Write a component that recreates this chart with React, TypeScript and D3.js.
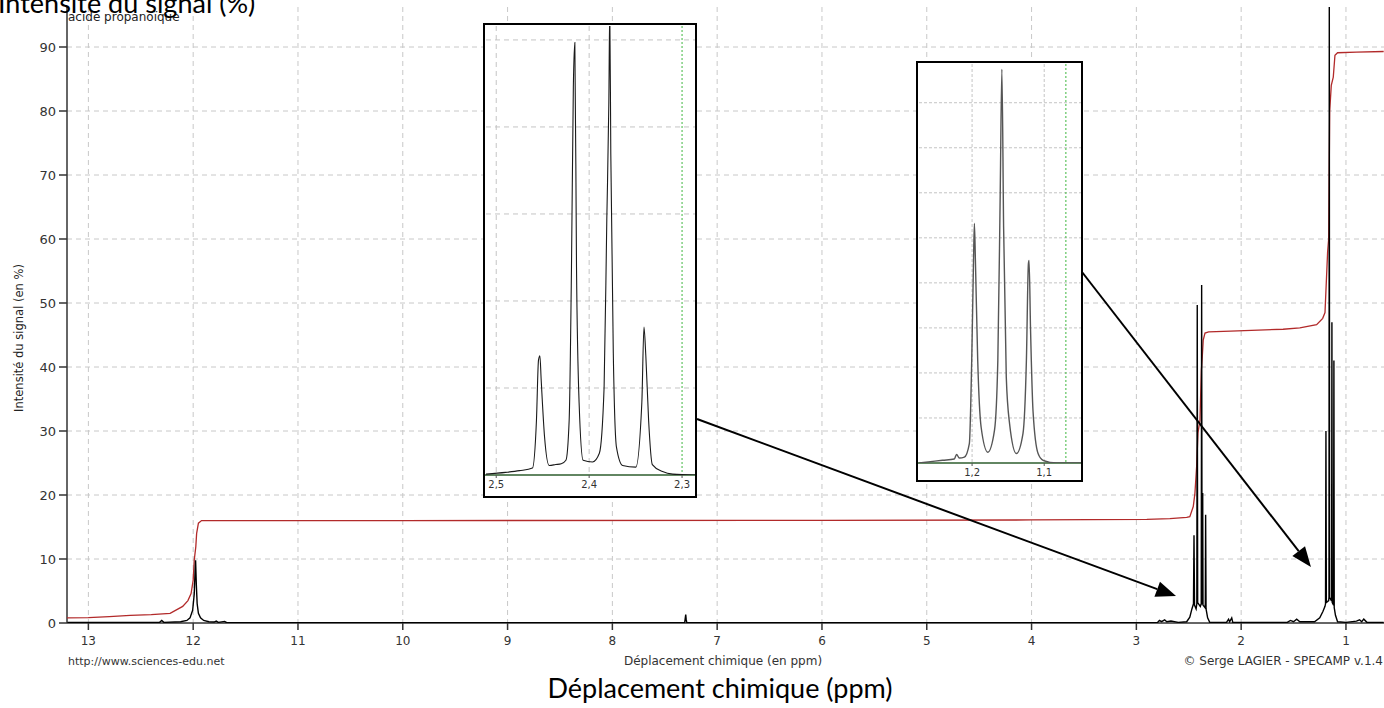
import React, { useEffect, useRef } from 'react'
import * as d3 from 'd3'

// main axis ticks
const xTicks = [13, 12, 11, 10, 9, 8, 7, 6, 5, 4, 3, 2, 1]
const yTicks = [0, 10, 20, 30, 40, 50, 60, 70, 80, 90]

// main spectrum (ppm, intensity %)
const spectrum: [number, number][] = [
  [13.2, 0.1], [12.6, 0.1], [12.32, 0.1], [12.3, 0.4], [12.28, 0.1], [12.12, 0.2],
  [12.06, 0.4], [12.03, 0.8], [12.005, 2], [11.99, 4.5], [11.982, 8], [11.977, 9.8],
  [11.97, 6], [11.962, 3], [11.95, 1.5], [11.93, 0.8], [11.9, 0.4], [11.85, 0.2],
  [11.8, 0.15], [11.78, 0.3], [11.76, 0.1], [11.7, 0.25], [11.68, 0.05], [11.5, 0.05],
  [7.31, 0.05], [7.3, 1.3], [7.296, 0.6], [7.29, 0.05],
  [2.8, 0.05], [2.78, 0.4], [2.76, 0.2], [2.73, 0.5], [2.71, 0.2], [2.67, 0.3], [2.6, 0.1],
  [2.52, 0.2], [2.49, 0.9], [2.47, 2.2], [2.455, 3], [2.45, 13.7], [2.445, 2.8],
  [2.43, 2.2], [2.423, 3], [2.419, 49.7], [2.415, 3.2], [2.39, 2.6], [2.381, 3],
  [2.377, 52.8], [2.373, 3], [2.369, 3], [2.367, 20.3], [2.364, 2.8], [2.345, 2.4],
  [2.342, 3], [2.339, 16.9], [2.335, 2.2], [2.32, 0.8], [2.3, 0.1],
  [2.14, 0.1], [2.12, 0.6], [2.11, 0.2], [2.09, 0.8], [2.08, 0.1],
  [1.56, 0.1], [1.53, 0.4], [1.5, 0.2], [1.47, 0.6], [1.44, 0.2], [1.3, 0.2],
  [1.25, 0.8], [1.22, 1.8], [1.2, 2.6], [1.195, 3], [1.191, 30], [1.187, 3.2],
  [1.165, 3.5], [1.162, 4], [1.159, 99], [1.156, 4], [1.14, 3.5], [1.137, 3.5],
  [1.134, 47], [1.131, 3.2], [1.118, 2.8], [1.115, 41], [1.112, 2.4], [1.1, 1.2],
  [1.08, 0.2], [1.0, 0.1], [0.9, 0.3], [0.87, 0.5], [0.85, 0.2], [0.83, 0.6],
  [0.8, 0.1], [0.64, 0.1]
]

// integration curve (ppm, %)
const integral: [number, number][] = [
  [13.21, 0.8], [13.0, 0.85], [12.8, 1.0], [12.6, 1.2], [12.4, 1.3], [12.22, 1.5],
  [12.1, 2.6], [12.05, 3.5], [12.02, 4.6], [12.0, 6.7], [11.99, 9.8], [11.975, 11.9],
  [11.967, 14], [11.95, 15.6], [11.92, 16.0], [10.0, 16.0], [6.0, 16.05], [4.0, 16.1],
  [2.9, 16.2], [2.68, 16.3], [2.52, 16.5], [2.49, 16.6], [2.457, 18.2], [2.441, 20.3],
  [2.425, 24.4], [2.412, 29.7], [2.393, 31.7], [2.38, 39.5], [2.371, 41.6],
  [2.362, 44.2], [2.345, 45.3], [2.31, 45.5], [2.1, 45.6], [1.6, 45.9], [1.44, 46.1],
  [1.28, 46.6], [1.222, 47.6], [1.2, 48.5], [1.175, 58], [1.165, 60], [1.16, 70],
  [1.155, 80], [1.14, 84], [1.121, 85.3], [1.105, 88.7], [1.08, 89.1], [0.9, 89.2],
  [0.64, 89.3]
]

// zoom on the quartet (ppm, %)
const quartet: [number, number][] = [
  [2.511, 0.1], [2.49, 0.3], [2.475, 0.5], [2.461, 0.8], [2.4567, 6.3], [2.4545, 13.2],
  [2.453, 13.7], [2.4516, 10.9], [2.448, 4.4], [2.443, 1.1], [2.436, 1.2], [2.43, 1.3],
  [2.425, 1.7], [2.4215, 6.3], [2.419, 23.9], [2.417, 44.6], [2.4154, 49.7],
  [2.4136, 23.9], [2.4108, 8.3], [2.4065, 1.7], [2.3964, 1.5], [2.389, 2.5],
  [2.3839, 10.1], [2.381, 29.3], [2.3788, 42.8], [2.3778, 53.5], [2.3767, 37],
  [2.374, 14], [2.3706, 3.2], [2.364, 1.1], [2.3498, 0.9], [2.3433, 8.3], [2.341, 17],
  [2.339, 13.7], [2.336, 6.3], [2.332, 1.2], [2.321, 0.4], [2.31, 0.1], [2.286, 0]
]
const quartetTicks = [2.5, 2.4, 2.3]
const quartetGridY = [10, 20, 30, 40, 50]

// zoom on the triplet (ppm, %)
const triplet: [number, number][] = [
  [1.2736, 0], [1.241, 0.6], [1.2247, 0.9], [1.2215, 1.9], [1.2177, 1.1], [1.2107, 1.3],
  [1.2038, 4.3], [1.2005, 22.8], [1.198, 45], [1.1968, 53.2], [1.1954, 45], [1.1922, 22.8],
  [1.1875, 8], [1.1782, 2.4], [1.1689, 7.3], [1.1643, 22.8], [1.161, 59.9], [1.1587, 87.4],
  [1.1563, 52.4], [1.1526, 19.1], [1.148, 8.7], [1.1386, 2.1], [1.1294, 6.6],
  [1.1247, 22.8], [1.1219, 44.3], [1.121, 45], [1.119, 30], [1.1155, 11.5], [1.1085, 2.1],
  [1.1015, 0.6], [1.0828, 0], [1.049, 0]
]
const tripletTicks = [1.2, 1.1]
const tripletGridY = [10, 20, 30, 40, 50, 60, 70, 80]

const fmtComma = (v: number) => v.toFixed(1).replace('.', ',')

function App() {
  const ref = useRef<SVGSVGElement>(null)

  useEffect(() => {
    const svg = d3.select(ref.current)
    svg.selectAll('*').remove()
    const W = 1384
    const M = { top: 7, left: 67, bottom: 623, right: 1384 }
    const small = "'DejaVu Sans', Tahoma, sans-serif"
    const big = "Lato, 'Open Sans', sans-serif"

    const x = d3.scaleLinear().domain([13.204, 0.637]).range([M.left, M.right])
    const y = d3.scaleLinear().domain([0, 96.25]).range([M.bottom, M.top])

    svg.append('defs').append('clipPath').attr('id', 'mainclip')
      .append('rect').attr('x', M.left).attr('y', M.top)
      .attr('width', M.right - M.left).attr('height', M.bottom - M.top)

    // grid
    const grid = svg.append('g').attr('stroke', '#c8c8c8').attr('stroke-dasharray', '5,4')
    grid.selectAll('.vg').data(xTicks).join('line')
      .attr('x1', d => x(d)).attr('x2', d => x(d)).attr('y1', M.top).attr('y2', M.bottom)
    grid.selectAll('.hg').data(yTicks.filter(d => d > 0)).join('line')
      .attr('x1', M.left).attr('x2', M.right).attr('y1', d => y(d)).attr('y2', d => y(d))

    // axes
    const ax = svg.append('g').attr('stroke', '#333').attr('stroke-width', 1.5)
    ax.append('line').attr('x1', M.left).attr('x2', M.left).attr('y1', M.top).attr('y2', M.bottom)
    ax.append('line').attr('x1', M.left).attr('x2', W).attr('y1', M.bottom).attr('y2', M.bottom)
    ax.selectAll('.yt').data(yTicks).join('line')
      .attr('x1', M.left - 8).attr('x2', M.left).attr('y1', d => y(d)).attr('y2', d => y(d))
    ax.selectAll('.xt').data(xTicks).join('line')
      .attr('x1', d => x(d)).attr('x2', d => x(d)).attr('y1', M.bottom).attr('y2', M.bottom + 7)

    svg.append('g').selectAll('text').data(yTicks).join('text')
      .attr('x', M.left - 11).attr('y', d => y(d) + 4.5)
      .attr('text-anchor', 'end').attr('font-family', small).attr('font-size', 13)
      .attr('fill', '#333').text(d => d)
    svg.append('g').selectAll('text').data(xTicks).join('text')
      .attr('x', d => x(d)).attr('y', M.bottom + 22)
      .attr('text-anchor', 'middle').attr('font-family', small).attr('font-size', 12)
      .attr('fill', '#333').text(d => d)

    // curves
    const plot = svg.append('g').attr('clip-path', 'url(#mainclip)')
    const line = d3.line<[number, number]>().x(d => x(d[0])).y(d => y(d[1]))
    plot.append('path').datum(integral).attr('d', line)
      .attr('fill', 'none').attr('stroke', '#b22a2a').attr('stroke-width', 1.3)
    plot.append('path').datum(spectrum).attr('d', line)
      .attr('fill', 'none').attr('stroke', '#000').attr('stroke-width', 1.4)

    // texts of the spectrum window
    svg.append('text').attr('x', 68).attr('y', 21).attr('font-family', small)
      .attr('font-size', 12).attr('fill', '#222').text('acide propanoïque')
    svg.append('text').attr('transform', 'translate(23,338) rotate(-90)')
      .attr('text-anchor', 'middle').attr('font-family', small).attr('font-size', 11.5)
      .attr('fill', '#222').text('Intensité du signal (en %)')
    svg.append('text').attr('x', 68).attr('y', 665).attr('font-family', small)
      .attr('font-size', 11).attr('fill', '#333').text('http://www.sciences-edu.net')
    svg.append('text').attr('x', 723).attr('y', 665).attr('text-anchor', 'middle')
      .attr('font-family', small).attr('font-size', 12).attr('fill', '#333')
      .text('Déplacement chimique (en ppm)')
    svg.append('text').attr('x', 1383).attr('y', 665).attr('text-anchor', 'end')
      .attr('font-family', small).attr('font-size', 12).attr('fill', '#333')
      .text('© Serge LAGIER - SPECAMP v.1.4')

    // big captions
    svg.append('text').attr('x', -2).attr('y', 13).attr('font-family', big)
      .attr('font-size', 27).attr('fill', '#000').text('Intensité du signal (%)')
    svg.append('text').attr('x', 720).attr('y', 698).attr('text-anchor', 'middle')
      .attr('font-family', big).attr('font-size', 27).attr('fill', '#000')
      .text('Déplacement chimique (ppm)')

    // insets
    const drawInset = (id: string, box: { x: number, y: number, w: number, h: number },
      xr: [number, number], yr: [number, number], xd: [number, number], yd: [number, number],
      data: [number, number][], ticks: number[], gridY: number[], green: number,
      dash: string, trace: string, tw: number) => {
      const ix = d3.scaleLinear().domain(xd).range(xr)
      const iy = d3.scaleLinear().domain(yd).range(yr)
      const g = svg.append('g')
      g.append('rect').attr('x', box.x).attr('y', box.y).attr('width', box.w).attr('height', box.h)
        .attr('fill', '#fff')
      g.append('clipPath').attr('id', id).append('rect')
        .attr('x', xr[0]).attr('y', yr[1]).attr('width', xr[1] - xr[0]).attr('height', yr[0] - yr[1])
      const gg = g.append('g').attr('stroke', '#c4c4c4').attr('stroke-dasharray', dash)
      gg.selectAll('.v').data(ticks.filter(t => Math.abs(t - green) > 1e-6)).join('line')
        .attr('x1', d => ix(d)).attr('x2', d => ix(d)).attr('y1', yr[1]).attr('y2', yr[0])
      gg.selectAll('.h').data(gridY).join('line')
        .attr('x1', xr[0]).attr('x2', box.x + box.w).attr('y1', d => iy(d)).attr('y2', d => iy(d))
      g.append('line').attr('x1', ix(green)).attr('x2', ix(green)).attr('y1', yr[1]).attr('y2', yr[0])
        .attr('stroke', '#5fc35f').attr('stroke-dasharray', '2,2').attr('stroke-width', 1.2)
      g.append('line').attr('x1', box.x).attr('x2', box.x + box.w).attr('y1', yr[0]).attr('y2', yr[0])
        .attr('stroke', '#2e5e2e').attr('stroke-width', 1.5)
      g.append('path').datum(data)
        .attr('d', d3.line<[number, number]>().curve(d3.curveMonotoneX)
          .x(d => ix(d[0])).y(d => iy(d[1])))
        .attr('clip-path', `url(#${id})`)
        .attr('fill', 'none').attr('stroke', trace).attr('stroke-width', tw)
      g.selectAll('.tk').data(ticks).join('line')
        .attr('x1', d => ix(d)).attr('x2', d => ix(d)).attr('y1', yr[0]).attr('y2', yr[0] + 3)
        .attr('stroke', '#555')
      g.selectAll('.tl').data(ticks).join('text')
        .attr('x', d => ix(d)).attr('y', yr[0] + 13).attr('text-anchor', 'middle')
        .attr('font-family', small).attr('font-size', 10).attr('fill', '#333')
        .text(d => fmtComma(d))
      g.append('rect').attr('x', box.x).attr('y', box.y).attr('width', box.w).attr('height', box.h)
        .attr('fill', 'none').attr('stroke', '#000').attr('stroke-width', 2)
    }

    drawInset('clipq', { x: 484, y: 24, w: 212, h: 473 }, [486, 696], [475, 26],
      [2.511, 2.285], [0, 51.6], quartet, quartetTicks, quartetGridY, 2.3, '5,4', '#1a1a1a', 1.1)
    drawInset('clipt', { x: 917, y: 62, w: 165, h: 419 }, [919, 1081], [463, 64],
      [1.2736, 1.049], [0, 88.6], triplet, tripletTicks, tripletGridY, 1.07, '3,2', '#555', 1.4)

    // arrows from the insets to the multiplets
    const arrow = (x0: number, y0: number, x1: number, y1: number) => {
      const a = Math.atan2(y1 - y0, x1 - x0)
      const L = 20, Wd = 8
      const bx = x1 - L * Math.cos(a), by = y1 - L * Math.sin(a)
      svg.append('line').attr('x1', x0).attr('y1', y0).attr('x2', bx).attr('y2', by)
        .attr('stroke', '#000').attr('stroke-width', 2)
      const pts = [[x1, y1],
        [bx + Wd * Math.sin(a), by - Wd * Math.cos(a)],
        [bx - Wd * Math.sin(a), by + Wd * Math.cos(a)]]
      svg.append('polygon').attr('points', pts.map(p => p.join(',')).join(' ')).attr('fill', '#000')
    }
    arrow(697, 419, x(2.622), y(4.2))
    arrow(1082, 272, x(1.334), y(8.75))
  }, [])

  return (
    <svg ref={ref} width={1384} height={708}
      style={{ position: 'absolute', left: 0, top: 0, display: 'block', background: '#fff' }} />
  )
}

export default App
